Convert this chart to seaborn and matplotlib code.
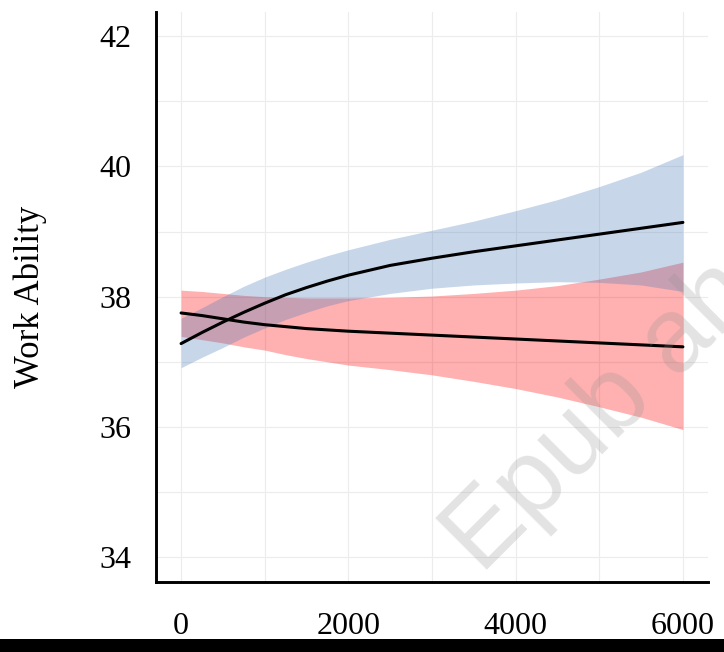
import matplotlib
matplotlib.use("Agg")
import matplotlib.pyplot as plt
import numpy as np
import pandas as pd
import seaborn as sns
from matplotlib.patches import Rectangle

exposure = [0, 250, 500, 750, 1000, 1250, 1500, 1750, 2000,
            2500, 3000, 3500, 4000, 4500, 5000, 5500, 6000]

blue_fit = [37.28, 37.45, 37.61, 37.76, 37.90, 38.03, 38.14, 38.24, 38.33,
            38.48, 38.59, 38.69, 38.78, 38.87, 38.96, 39.05, 39.14]
blue_lo = [36.91, 37.07, 37.22, 37.38, 37.52, 37.65, 37.76, 37.86, 37.94,
           38.05, 38.13, 38.18, 38.21, 38.23, 38.22, 38.18, 38.08]
blue_hi = [37.67, 37.83, 38.00, 38.16, 38.30, 38.42, 38.53, 38.63, 38.72,
           38.88, 39.02, 39.16, 39.32, 39.49, 39.69, 39.91, 40.18]

red_fit = [37.75, 37.71, 37.66, 37.61, 37.57, 37.54, 37.51, 37.49, 37.47,
           37.44, 37.41, 37.38, 37.35, 37.32, 37.29, 37.26, 37.23]
red_lo = [37.39, 37.34, 37.29, 37.23, 37.18, 37.11, 37.05, 37.00, 36.95,
          36.88, 36.80, 36.70, 36.59, 36.46, 36.31, 36.15, 35.96]
red_hi = [38.10, 38.08, 38.05, 38.02, 38.00, 37.99, 37.98, 37.98, 37.98,
          37.99, 38.01, 38.05, 38.10, 38.17, 38.27, 38.38, 38.53]

y_ticks = [34, 36, 38, 40, 42]
x_ticks = [0, 2000, 4000, 6000]

df = pd.DataFrame({
    "x": exposure * 2,
    "fit": blue_fit + red_fit,
    "group": ["blue"] * len(exposure) + ["red"] * len(exposure),
})

sns.set_style("white")
plt.rcParams["font.family"] = ["Liberation Serif", "DejaVu Serif"]

fig = plt.figure(figsize=(7.24, 6.52), dpi=100)
ax = fig.add_axes([156 / 724, 1 - 582 / 652, (708 - 156) / 724, (582 - 12) / 652])

ax.fill_between(exposure, red_lo, red_hi, color="#ff0000", alpha=0.31, linewidth=0, zorder=2)
ax.fill_between(exposure, blue_lo, blue_hi, color="#487ab9", alpha=0.30, linewidth=0, zorder=3)

sns.lineplot(data=df, x="x", y="fit", units="group", estimator=None, color="black",
             linewidth=2.2, ax=ax, zorder=4)

ax.set_xlim(-300, 6300)
ax.set_ylim(33.62, 42.37)
ax.set_xticks(x_ticks)
ax.set_yticks(y_ticks)
ax.set_xticks(np.arange(0, 6001, 1000), minor=True)
ax.set_yticks(np.arange(34, 43, 1), minor=True)
ax.grid(True, which="both", color="#ececec", linewidth=0.8, zorder=0)
ax.set_axisbelow(True)

for side in ["top", "right"]:
    ax.spines[side].set_visible(False)
for side in ["left", "bottom"]:
    ax.spines[side].set_linewidth(2.1)
    ax.spines[side].set_color("black")

ax.tick_params(axis="both", which="major", direction="out", length=14.5, width=2.1,
               color="black", labelsize=23, labelcolor="black")
ax.tick_params(axis="x", which="major", pad=7)
ax.tick_params(axis="y", which="major", pad=3)
ax.tick_params(axis="both", which="minor", length=0)

ax.set_xlabel("")
ax.set_ylabel("Work Ability", fontsize=25, color="black")
ax.yaxis.set_label_coords(-0.198, 0.5)

# faint watermark laid over the plot
fig.text(0.665, 0.118, "Epub ahead of print", rotation=45, rotation_mode="anchor",
         ha="left", va="baseline", fontsize=76, color="#909090", alpha=0.25,
         family="Liberation Sans", zorder=10)

# black strip along the bottom edge
fig.patches.append(Rectangle((0, 0), 1, 13 / 652, transform=fig.transFigure,
                             facecolor="black", edgecolor="none", zorder=20))

fig.savefig("out.png", dpi=100)
plt.close(fig)
